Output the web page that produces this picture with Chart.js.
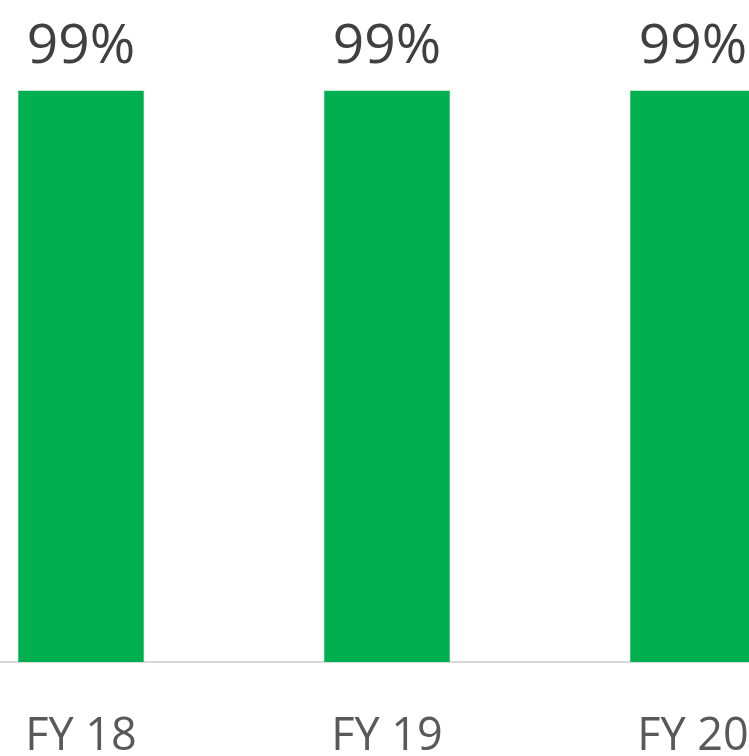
<!DOCTYPE html>
<html>
<head>
<meta charset="utf-8">
<script src="https://cdn.jsdelivr.net/npm/chart.js@4"></script>
<style>
  html, body { margin: 0; padding: 0; background: #fff; overflow: hidden; }
  #wrap { position: relative; width: 749px; height: 756px; overflow: hidden; }
  #box { position: absolute; left: -72px; top: 0; width: 918px; height: 756px; }
</style>
</head>
<body>
<div id="wrap"><div id="box"><canvas id="chart"></canvas></div></div>
<script>
const categories = ["FY 18", "FY 19", "FY 20"];
const values = [99, 99, 99];
const valueLabels = ["99%", "99%", "99%"];

// draws the "99%" text above each bar
const topLabels = {
  id: "topLabels",
  afterDatasetsDraw(chart) {
    const ctx = chart.ctx;
    const meta = chart.getDatasetMeta(0);
    ctx.save();
    ctx.font = '55px "Open Sans"';
    ctx.fillStyle = "#404040";
    ctx.textAlign = "center";
    ctx.textBaseline = "alphabetic";
    meta.data.forEach((bar, i) => {
      ctx.fillText(valueLabels[i], bar.x, bar.y - 28);
    });
    ctx.restore();
  }
};

new Chart(document.getElementById("chart"), {
  type: "bar",
  data: {
    labels: categories,
    datasets: [{
      data: values,
      backgroundColor: "#00b050",
      borderWidth: 0,
      categoryPercentage: 1,
      barPercentage: 0.41
    }]
  },
  options: {
    responsive: true,
    maintainAspectRatio: false,
    animation: false,
    layout: { padding: { top: 85, left: 0, right: 0, bottom: 0 } },
    plugins: { legend: { display: false }, tooltip: { enabled: false } },
    scales: {
      x: {
        grid: { display: false, drawTicks: false },
        border: { display: true, color: "#d9d9d9", width: 2 },
        ticks: { color: "#595959", font: { family: "Open Sans", size: 45 }, padding: 48, maxRotation: 0 },
        afterFit: (s) => { s.height = 94; }
      },
      y: { display: false, min: 0, max: 100 }
    }
  },
  plugins: [topLabels]
});
</script>
</body>
</html>
